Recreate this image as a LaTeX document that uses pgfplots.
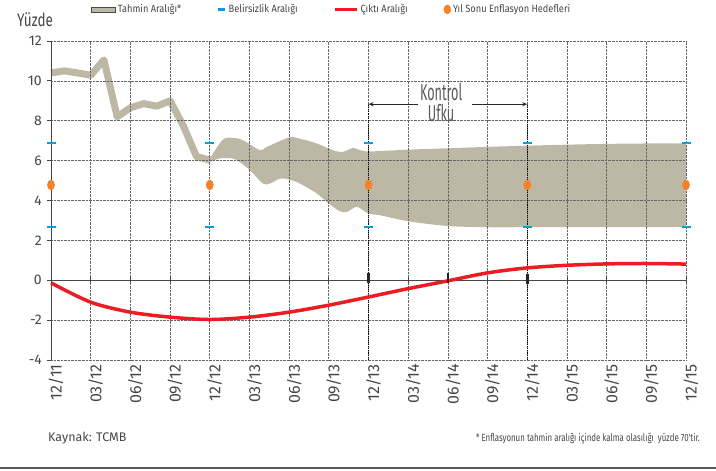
\documentclass[border=0pt]{standalone}
\usepackage{fontspec}
\setmainfont{Fira Sans}
\newfontfamily\cond{Fira Sans}[FakeStretch=0.75]
\newfontfamily\legf{Fira Sans}[FakeStretch=0.88]
\newfontfamily\tall{Fira Sans}[FakeStretch=0.55]
\usepackage{pgfplots}
\pgfplotsset{compat=1.18}
\usepgfplotslibrary{fillbetween}
\usetikzlibrary{arrows.meta}
\definecolor{bandcol}{RGB}{189,184,166}
\definecolor{bluec}{RGB}{0,160,220}
\definecolor{redc}{RGB}{237,28,36}
\definecolor{orangec}{RGB}{245,130,40}
\definecolor{txt}{RGB}{70,70,70}

\pgfplotstableread{
x y
0.0000 10.40
0.3333 10.50
0.6667 10.40
1.0000 10.28
1.3333 11.05
1.6667 8.20
2.0000 8.65
2.3333 8.86
2.6667 8.73
3.0000 9.00
3.3333 7.75
3.6667 6.20
4.0000 6.03
}\histtab

\pgfplotstableread{
x y
4.00 6.10
4.33 7.05
4.59 7.14
4.84 7.02
5.27 6.52
5.44 6.69
6.00 7.16
6.27 7.10
6.70 6.86
7.10 6.52
7.36 6.44
7.61 6.64
7.79 6.52
8.00 6.46
8.50 6.50
9.00 6.55
10.00 6.62
11.00 6.69
12.00 6.75
13.00 6.80
14.00 6.84
15.00 6.86
16.00 6.87
}\uptab

\pgfplotstableread{
x y
4.00 5.93
4.23 6.10
4.41 6.13
4.66 6.05
5.01 5.52
5.34 4.85
5.52 4.85
5.77 5.10
6.00 5.05
6.27 4.85
6.70 4.35
7.00 3.84
7.28 3.46
7.46 3.43
7.71 3.68
8.00 3.34
8.29 3.26
9.00 2.96
10.00 2.72
11.00 2.66
12.00 2.66
13.00 2.66
14.00 2.66
15.00 2.66
16.00 2.66
}\lowtab

\pgfplotstableread{
x y
0 -0.13
1 -1.10
2 -1.60
3 -1.85
4 -1.97
5 -1.85
6 -1.60
7 -1.25
8 -0.84
9 -0.42
10 -0.03
11 0.37
12 0.62
13 0.75
14 0.82
15 0.84
16 0.81
}\gaptab

\begin{document}
\begin{tikzpicture}
\begin{axis}[
  at={(51bp,111bp)}, anchor=south west,
  scale only axis, width=635bp, height=319bp,
  xmin=0, xmax=16, ymin=-4, ymax=12,
  set layers=standard,
  clip=false,
  axis x line=bottom, axis y line=left,
  x axis line style={draw=none},
  y axis line style={-, draw=txt, line width=1bp},
  xtick={0,...,16},
  xticklabels={12/11,03/12,06/12,09/12,12/12,03/13,06/13,09/13,12/13,03/14,06/14,09/14,12/14,03/15,06/15,09/15,12/15},
  ytick={-4,-2,0,2,4,6,8,10,12},
  yticklabels={-4,-2,0,2,4,6,8,10,12},
  xtick style={draw=none},
  ytick style={draw=txt, line width=0.8bp},
  tick align=outside,
  major tick length=4bp,
  grid=major,
  major grid style={densely dotted, black!60, line width=0.7bp},
  xticklabel style={rotate=90, anchor=east, inner sep=0pt, yshift=-5bp, font=\fontsize{16bp}{16bp}\selectfont, text=txt},
  yticklabel style={inner sep=0pt, xshift=-5bp, font=\fontsize{14bp}{14bp}\selectfont, text=txt},
  legend columns=4,
  legend style={draw=none, fill=none, inner sep=0pt, at={(0.063,1.099)}, anchor=west,
    font=\legf\fontsize{10.5bp}{12bp}\selectfont, text=txt,
    /tikz/every even column/.append style={column sep=34bp}},
  legend cell align=left,
]
\addlegendimage{legend image code/.code={\draw[fill=bandcol, draw=gray!60!black, line width=0.6bp] (0bp,-2.5bp) rectangle (24bp,2.5bp);}}
\addlegendentry{Tahmin Aralığı*}
\addlegendimage{legend image code/.code={\draw[bluec, line width=2.5bp] (0bp,0bp) -- (7bp,0bp);}}
\addlegendentry{Belirsizlik Aralığı}
\addlegendimage{legend image code/.code={\draw[redc, line width=3bp] (0bp,0bp) -- (22bp,0bp);}}
\addlegendentry{Çıktı Aralığı}
\addlegendimage{legend image code/.code={\fill[orangec] (3.5bp,0bp) ellipse (3.5bp and 4.5bp);}}
\addlegendentry{Yıl Sonu Enflasyon Hedefleri}

% band
\addplot[name path=up, draw=none, smooth, forget plot] table {\uptab};
\addplot[name path=lo, draw=none, smooth, forget plot] table {\lowtab};
\addplot[bandcol, forget plot] fill between[of=up and lo, on layer=axis background];
\addplot[bandcol, line width=7bp, line join=round, on layer=axis background, forget plot] table {\histtab};

% zero line
\addplot[txt, line width=1bp, forget plot] coordinates {(0,0) (16,0)};
\addplot[only marks, mark=|, mark size=3bp, mark options={txt, line width=0.8bp}, forget plot]
  coordinates {(0,0)(1,0)(2,0)(3,0)(4,0)(5,0)(6,0)(7,0)(8,0)(9,0)(10,0)(11,0)(12,0)(13,0)(14,0)(15,0)(16,0)};
\addplot[only marks, mark=|, mark size=5bp, mark options={black!85, line width=2.6bp}, forget plot]
  coordinates {(8,0.12)(10,0.12)(12,0.05)};

% control horizon
\draw[black, densely dotted, line width=0.9bp] (axis cs:8,-4) -- (axis cs:8,8.83);
\draw[black, densely dotted, line width=0.9bp] (axis cs:12,-4) -- (axis cs:12,8.83);
\draw[black!85, line width=0.9bp, -{Stealth[length=5bp,width=4bp]}] (axis cs:9.25,8.83) -- (axis cs:8,8.83);
\draw[black!85, line width=0.9bp, -{Stealth[length=5bp,width=4bp]}] (axis cs:10.6,8.83) -- (axis cs:12,8.83);
\node[font=\tall\fontsize{23bp}{23bp}\selectfont, text=black!65, inner sep=0pt] at (axis cs:9.83,9.42) {Kontrol};
\node[font=\tall\fontsize{23bp}{23bp}\selectfont, text=black!65, inner sep=0pt] at (axis cs:9.83,8.38) {Ufku};

% output gap
\addplot[redc, line width=3.5bp, smooth, forget plot] table {\gaptab};

% uncertainty markers
\addplot[only marks, mark=-, mark size=4.5bp, mark options={bluec, line width=2.5bp}, forget plot]
  coordinates {(0,6.89)(4,6.89)(8,6.89)(12,6.89)(16,6.89)(0,2.66)(4,2.66)(8,2.66)(12,2.66)(16,2.66)};
% targets
\addplot[only marks, mark=*, mark size=5bp, mark options={orangec, draw=orangec, xscale=0.72}, forget plot]
  coordinates {(0,4.78)(4,4.78)(8,4.78)(12,4.78)(16,4.78)};
\end{axis}

\node[anchor=base west, font=\cond\fontsize{18bp}{18bp}\selectfont, text=txt, inner sep=0pt] at (17bp,444.5bp) {Yüzde};
\node[anchor=base west, font=\fontsize{12.5bp}{12.5bp}\selectfont, text=txt, inner sep=0pt] at (48bp,30bp) {Kaynak: TCMB};
\node[anchor=base east, font=\cond\fontsize{10.5bp}{10.5bp}\selectfont, text=txt, inner sep=0pt] at (700bp,30bp) {* Enflasyonun tahmin aralığı içinde kalma olasılığı \ yüzde 70'tir.};
\draw[gray!70!black, line width=2bp] (0bp,3bp) -- (716bp,3bp);
\pgfresetboundingbox
\useasboundingbox (0,0) rectangle (716bp,471bp);
\end{tikzpicture}
\end{document}
